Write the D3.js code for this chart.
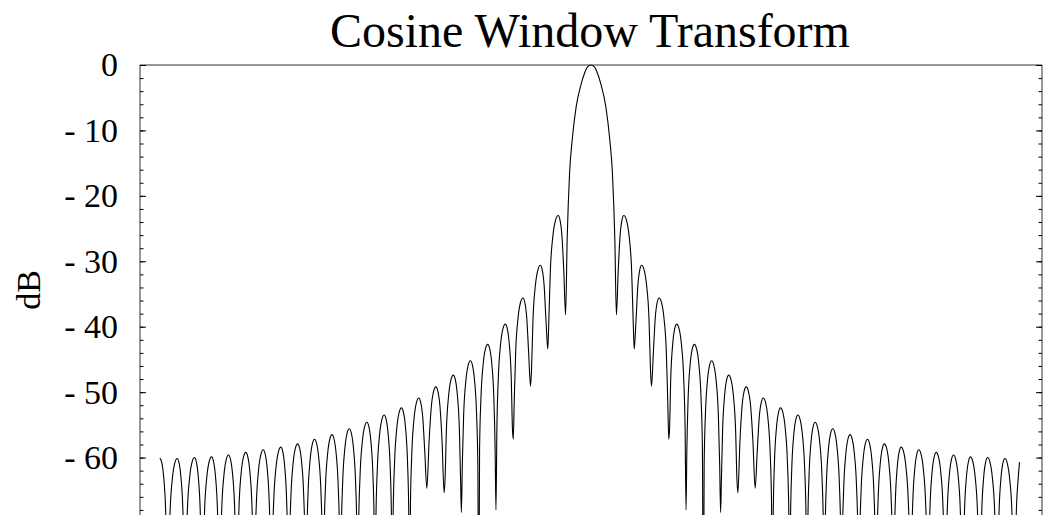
<!DOCTYPE html>
<html>
<head>
<meta charset="utf-8">
<script src="https://cdn.jsdelivr.net/npm/d3@7"></script>
<style>
  body { margin: 0; background: #fff; }
  svg { display: block; }
  text { font-family: "Liberation Serif", "Times New Roman", serif; fill: #000; }
</style>
</head>
<body>
<div id="chart"></div>
<script>
// main lobe (right half, bins from centre)
const mainBins = [0, 0.2, 0.38, 0.58, 0.86, 1.09, 1.24, 1.32, 1.38];
const mainDb   = [0, -0.3, -1.3, -3.0, -6.4, -11.5, -16.5, -21.6, -26.7];

// nulls to the right of centre, and how deep they show (-90 = below the frame)
const nullBins = [1.47, 2.5, 3.5, 4.5, 5.5, 6.5, 7.5, 8.5, 9.5, 10.5, 11.5, 12.5,
                  13.5, 14.5, 15.5, 16.5, 17.5, 18.5, 19.5, 20.5, 21.5, 22.5, 23.5, 24.5];
const nullDb   = [-38.2, -43.4, -49.1, -57.2, -68, -90, -68.4, -65.4, -64.7, -90, -90, -90,
                  -90, -90, -90, -90, -90, -90, -90, -90, -90, -90, -90, -90];

// sidelobe peaks to the right of centre
const sidelobeBins = [1.9, 2.93, 3.94, 4.96, 5.98, 6.98, 7.97, 8.98, 9.97, 10.97, 11.97, 12.97,
                      13.99, 14.99, 16.0, 16.98, 17.95, 18.97, 19.98, 20.98, 21.96, 22.95, 23.95, 24.95];
const sidelobeDb   = [-23.0, -30.6, -35.6, -39.6, -42.7, -45.2, -47.4, -49.2, -50.9, -52.4, -53.5, -54.6,
                      -55.6, -56.5, -57.2, -57.9, -58.4, -58.8, -59.2, -59.6, -59.9, -60.0, -60.15, -60.1];

// shape of one lobe side: fraction of the way from peak to null, dB below the peak
const lobeShapeU  = [0.25, 0.5, 0.75, 0.9];
const lobeShapeDb = [-0.7, -3.0, -8.3, -16];

// where the trace starts and stops
const startBin = -24.95;
const endBin = 24.8, endDb = -60.7;

const yMajor = [0, -10, -20, -30, -40, -50, -60];
const yMinor = d3.range(0, -70, -2);

const W = 1043, H = 515;
const plot = { left: 140, right: 1042, top: 65, bottom: 523 };

const svg = d3.select("#chart").append("svg")
  .attr("width", W).attr("height", H);

const x = d3.scaleLinear().domain([-26.1, 26.1]).range([plot.left, plot.right]);
const y = d3.scaleLinear().domain([0, -70]).range([plot.top, plot.bottom]);

// build the right half point list
let right = mainBins.map((b, i) => [b, mainDb[i]]);
sidelobeBins.forEach((p, i) => {
  const pk = sidelobeDb[i];
  const n1 = nullBins[i], n1db = nullDb[i];
  const n2 = i + 1 < nullBins.length ? nullBins[i + 1] : p + 0.55;
  const n2db = i + 1 < nullDb.length ? nullDb[i + 1] : -90;
  right.push([n1, n1db]);
  // inner side, null -> peak
  for (let j = lobeShapeU.length - 1; j >= 0; j--) {
    const v = pk + lobeShapeDb[j];
    if (v > n1db + 1) right.push([p - lobeShapeU[j] * (p - n1), v]);
  }
  right.push([p, pk]);
  // outer side, peak -> null
  for (let j = 0; j < lobeShapeU.length; j++) {
    const v = pk + lobeShapeDb[j];
    if (v > n2db + 1) right.push([p + lobeShapeU[j] * (n2 - p), v]);
  }
});

const left = right.filter(d => d[0] > 0).map(d => [-d[0], d[1]]).reverse();
let pts = left.concat(right)
  .filter(d => d[0] >= startBin && d[0] <= endBin);
pts.push([endBin, endDb]);

svg.append("defs").append("clipPath").attr("id", "clip")
  .append("rect")
  .attr("x", plot.left).attr("y", plot.top - 3)
  .attr("width", plot.right - plot.left).attr("height", plot.bottom - plot.top + 3);

const line = d3.line()
  .x(d => x(d[0]))
  .y(d => y(d[1]))
  .curve(d3.curveMonotoneX);

svg.append("path")
  .datum(pts)
  .attr("clip-path", "url(#clip)")
  .attr("fill", "none")
  .attr("stroke", "#000")
  .attr("stroke-width", 1.1)
  .attr("d", line);

// frame
svg.append("path")
  .attr("fill", "none")
  .attr("stroke", "#333")
  .attr("stroke-width", 1)
  .attr("d", `M${plot.left},${plot.bottom}V${plot.top}H${plot.right}V${plot.bottom}`);

// ticks on left and right frame, pointing inwards
function ticks(g, axis) {
  g.call(axis);
  g.select(".domain").remove();
  g.selectAll(".tick line").attr("stroke", "#000");
  g.selectAll(".tick text").remove();
}
svg.append("g").attr("transform", `translate(${plot.left},0)`)
  .call(g => ticks(g, d3.axisRight(y).tickValues(yMinor).tickSize(3.5)));
svg.append("g").attr("transform", `translate(${plot.left},0)`)
  .call(g => ticks(g, d3.axisRight(y).tickValues(yMajor).tickSize(6)));
svg.append("g").attr("transform", `translate(${plot.right},0)`)
  .call(g => ticks(g, d3.axisLeft(y).tickValues(yMinor).tickSize(3.5)));
svg.append("g").attr("transform", `translate(${plot.right},0)`)
  .call(g => ticks(g, d3.axisLeft(y).tickValues(yMajor).tickSize(6)));

// tick labels
const lab = svg.append("g").attr("transform", `translate(${plot.left},0)`)
  .call(d3.axisLeft(y).tickValues(yMajor).tickSize(0).tickPadding(22)
    .tickFormat(d => d === 0 ? "0" : "- " + Math.abs(d)));
lab.select(".domain").remove();
lab.selectAll("text")
  .style("font-family", '"Liberation Serif", "Times New Roman", serif')
  .style("font-size", "34px")
  .attr("fill", "#000");

// title and y label
svg.append("text")
  .attr("x", 590).attr("y", 47)
  .attr("text-anchor", "middle")
  .attr("fill", "#000")
  .style("font-size", "48px")
  .text("Cosine Window Transform");

svg.append("text")
  .attr("transform", "translate(40,290) rotate(-90)")
  .attr("text-anchor", "middle")
  .attr("fill", "#000")
  .style("font-size", "34px")
  .text("dB");
</script>
</body>
</html>
